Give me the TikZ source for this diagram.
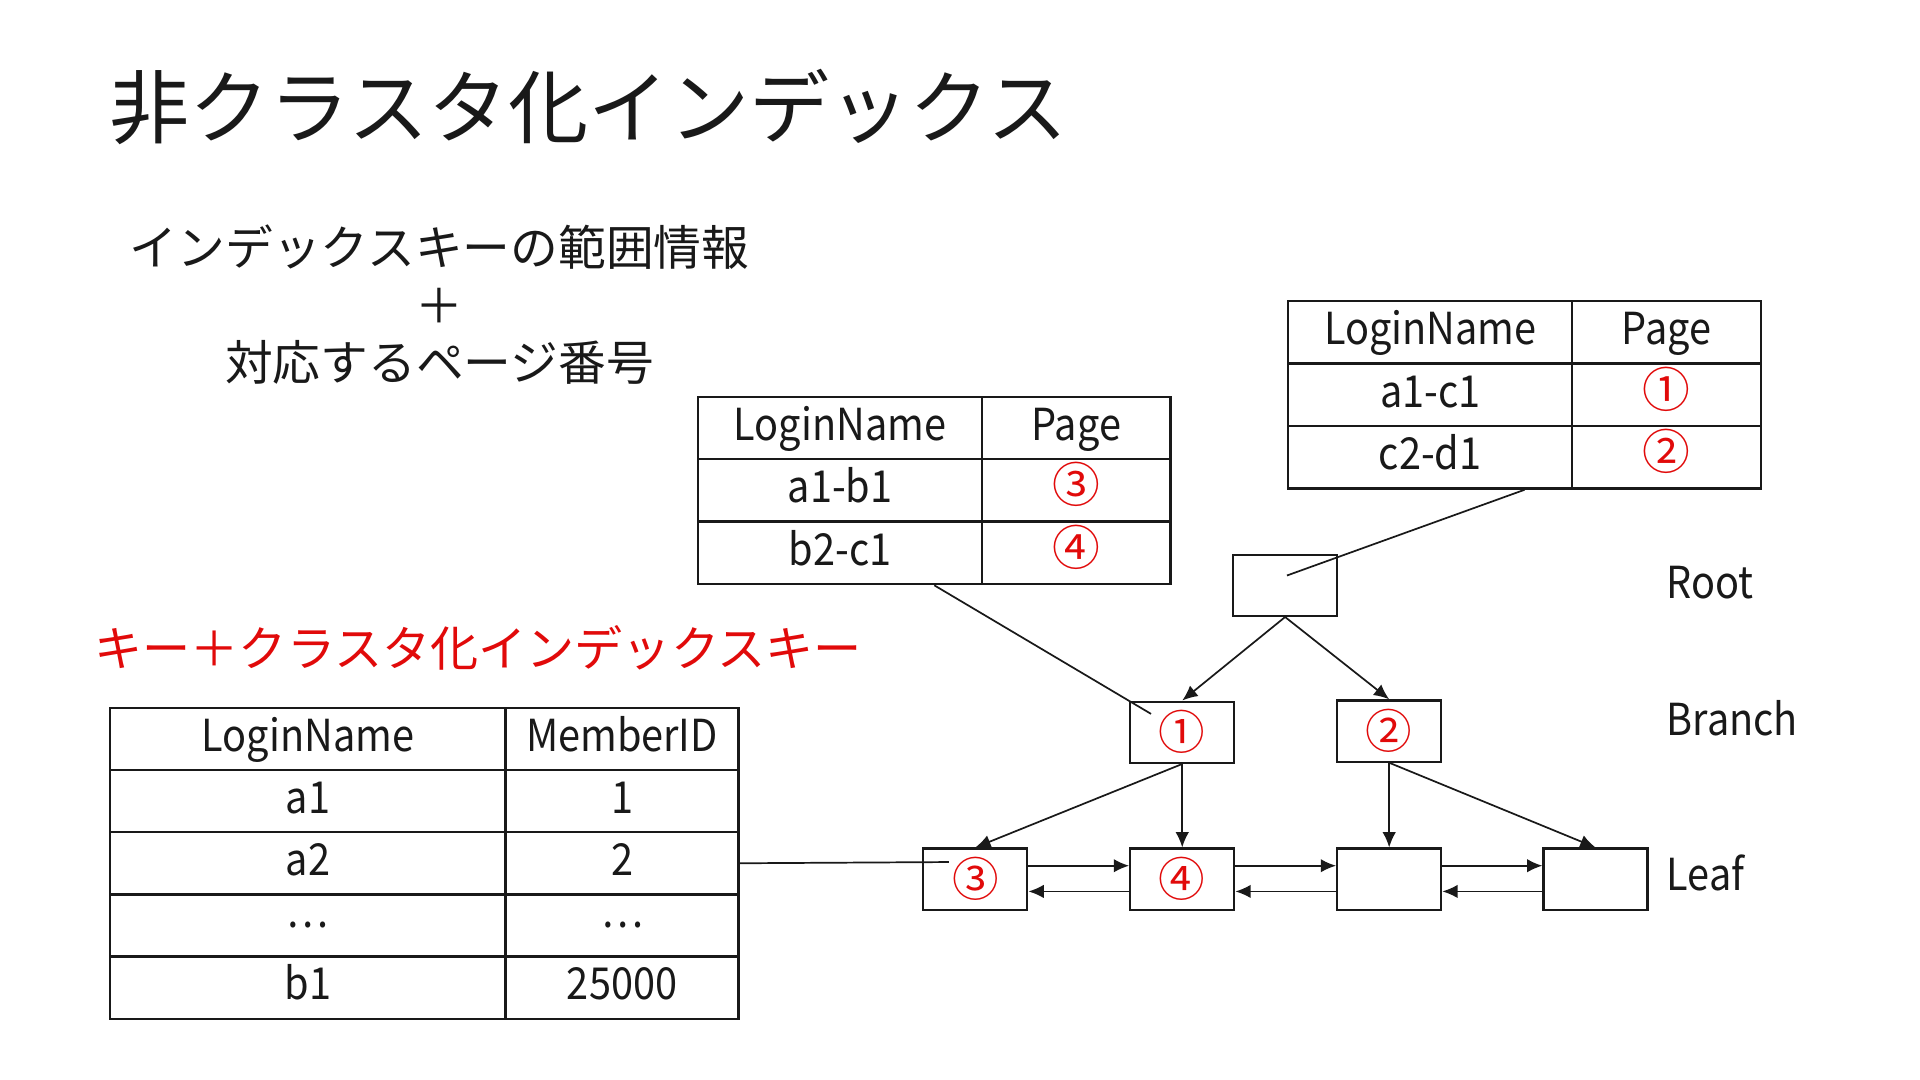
\documentclass[tikz,border=0pt]{standalone}
\usepackage{fontspec}
\setmainfont{Noto Sans CJK JP}
\newfontfamily\latn[FakeStretch=0.9]{Noto Sans CJK JP}
\usetikzlibrary{matrix,arrows.meta}
\definecolor{myred}{RGB}{225,10,10}
\definecolor{ink}{RGB}{25,25,25}
\tikzset{
  tbl/.style={matrix of nodes, inner sep=0pt, outer sep=0pt,
    column sep=-2pt, row sep=-2pt, anchor=north west,
    nodes={draw=ink, line width=2pt, inner sep=0pt, anchor=center,
      text height=26pt, text depth=6pt, font=\latn\fontsize{36}{40}\selectfont, text=ink}},
  pg/.style={text=myred, font=\fontsize{39}{42}\selectfont},
  box/.style={draw=ink, line width=1.8pt, minimum width=85pt, minimum height=50pt, inner sep=0pt,
    font=\fontsize{38}{42}\selectfont, text=myred},
  arr/.style={draw=ink, line width=1.4pt, -{Latex[length=12.5pt,width=11pt]}},
  lnk/.style={draw=ink, line width=1.4pt},
  lvl/.style={anchor=base west, inner sep=0pt, font=\latn\fontsize{36}{40}\selectfont, text=ink},
}
\newcommand\mydots{\raisebox{8pt}{…}}
\begin{document}
\begin{tikzpicture}[x=1pt,y=-1pt]
\fill[white] (0,0) rectangle (1568,882);
\useasboundingbox (0,0) rectangle (1568,882);

% title and captions
\node (title) [anchor=west, inner sep=0pt, font=\fontsize{65.5}{70}\selectfont, text=ink] at (89,87) {非クラスタ化インデックス};
\node (sub) [align=center, inner sep=0pt, font=\fontsize{39}{47}\selectfont, text=ink] at (359,249)
  {インデックスキーの範囲情報\\＋\\対応するページ番号};
\node (redcap) [anchor=west, inner sep=0pt, font=\fontsize{39.3}{45}\selectfont, text=myred] at (77,529) {キー＋クラスタ化インデックスキー};

% tables
\matrix (tR) [tbl, column 1/.style={nodes={minimum width=232pt}}, column 2/.style={nodes={minimum width=154pt}},
  nodes={minimum height=51pt}] at (1051,245) {
  LoginName & Page \\
  a1-c1 & |[pg]| ① \\
  c2-d1 & |[pg]| ② \\
};
\matrix (tM) [tbl, column 1/.style={nodes={minimum width=232pt}}, column 2/.style={nodes={minimum width=154pt}},
  nodes={minimum height=51pt}] at (569,323) {
  LoginName & Page \\
  a1-b1 & |[pg]| ③ \\
  b2-c1 & |[pg]| ④ \\
};
\matrix (tL) [tbl, column 1/.style={nodes={minimum width=323pt}}, column 2/.style={nodes={minimum width=190pt}},
  nodes={minimum height=50.8pt}] at (89,577) {
  LoginName & MemberID \\
  a1 & 1 \\
  a2 & 2 \\
  \mydots & \mydots \\
  b1 & 25000 \\
};

% tree
\node (root) [box] at (1049.5,478) {};
\node (b1) [box] at (965.5,598) {①};
\node (b2) [box] at (1134.5,597) {②};
\node (l1) [box] at (796.5,718) {③};
\node (l2) [box] at (965.5,718) {④};
\node (l3) [box] at (1134.5,718) {};
\node (l4) [box] at (1303,718) {};

\node (lr) [lvl] at (1361,489) {Root};
\node (lb) [lvl] at (1361,601) {Branch};
\node (ll) [lvl] at (1361,727) {Leaf};

\draw[arr] (root.south) -- (b1.north);
\draw[arr] (root.south) -- (b2.north);
\draw[arr] (b1.south) -- (l1.north);
\draw[arr] (b1.south) -- (l2.north);
\draw[arr] (b2.south) -- (l3.north);
\draw[arr] (b2.south) -- (l4.north);

\draw[arr] ([yshift=11pt]l1.east) -- ([yshift=11pt]l2.west);
\draw[arr] ([yshift=-10pt]l2.west) -- ([yshift=-10pt]l1.east);
\draw[arr] ([yshift=11pt]l2.east) -- ([yshift=11pt]l3.west);
\draw[arr] ([yshift=-10pt]l3.west) -- ([yshift=-10pt]l2.east);
\draw[arr] ([yshift=11pt]l3.east) -- ([yshift=11pt]l4.west);
\draw[arr] ([yshift=-10pt]l4.west) -- ([yshift=-10pt]l3.east);

% links from tables into pages
\coordinate (eR) at (1051,470);
\coordinate (eM) at (940,583);
\coordinate (eL) at (775,704);
\draw[lnk] (tR.south) -- (eR);
\draw[lnk] (tM.south) -- (eM);
\draw[lnk] (tL.east) -- (eL);
\end{tikzpicture}
\end{document}
